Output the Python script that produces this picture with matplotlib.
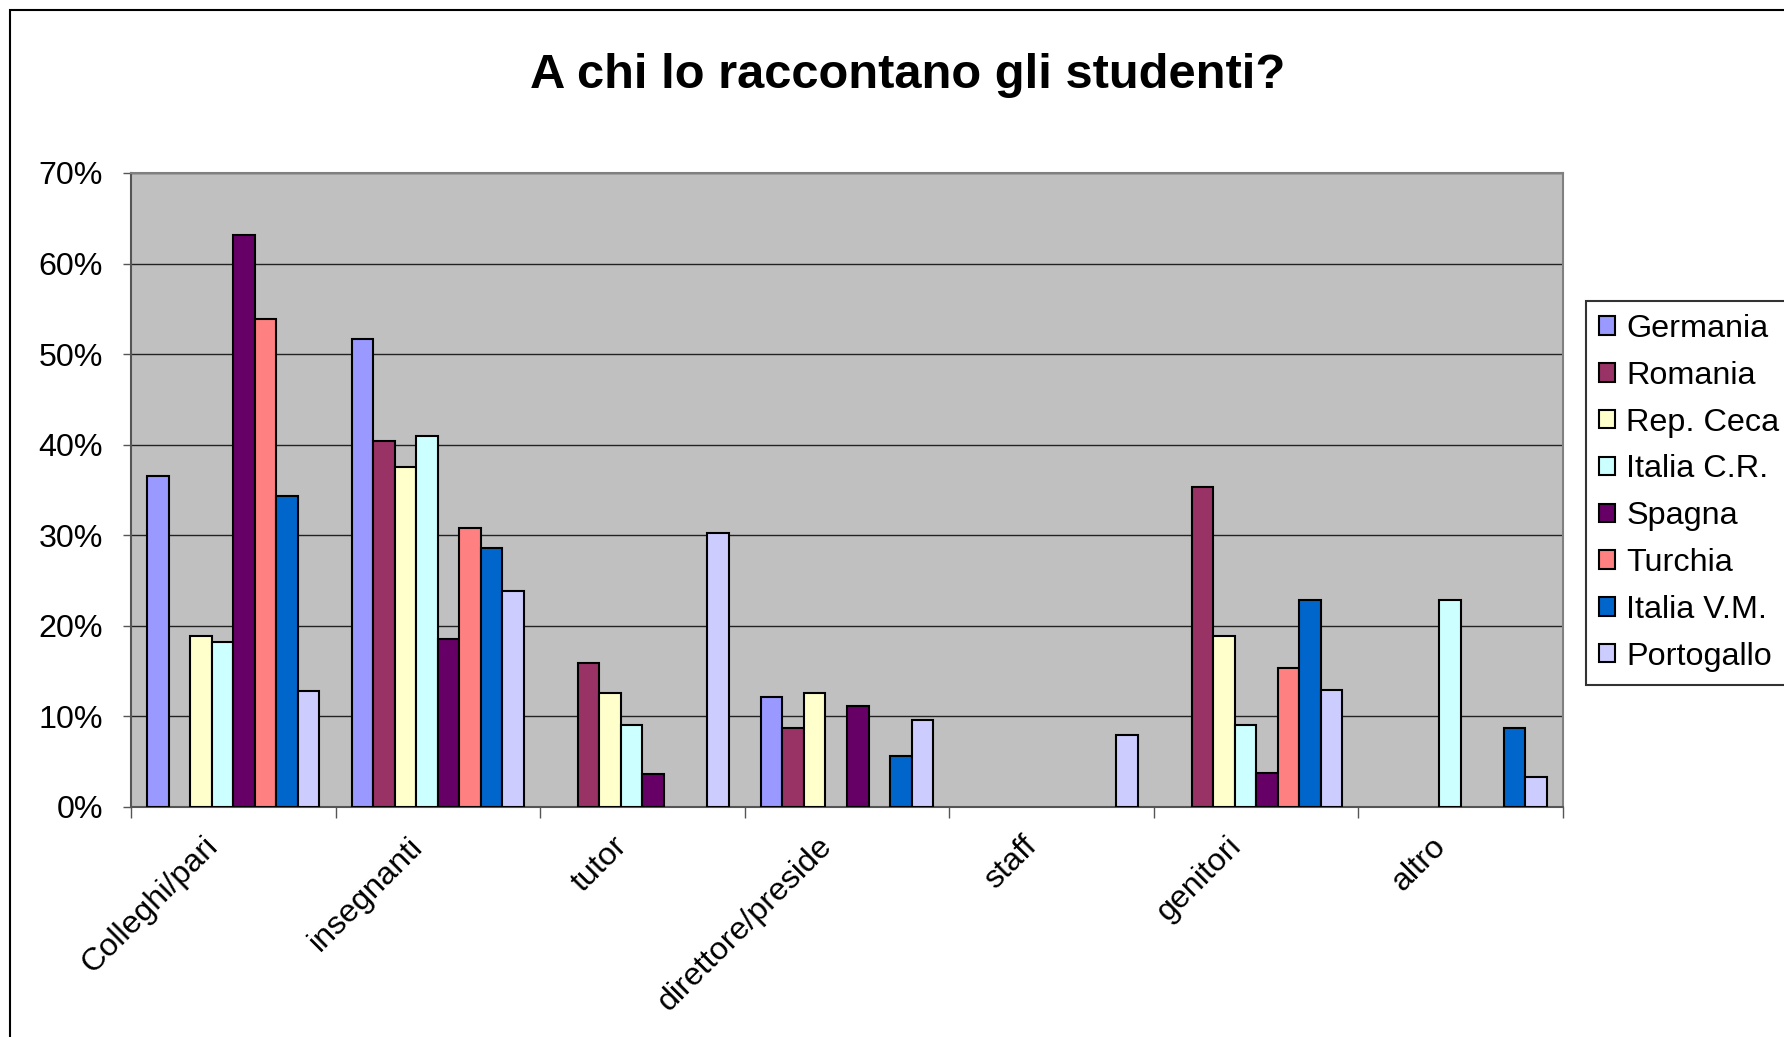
import numpy as np
import matplotlib
matplotlib.use("Agg")
import matplotlib.pyplot as plt
import matplotlib.transforms as mtransforms
from matplotlib.patches import Rectangle
from matplotlib.ticker import PercentFormatter, FixedLocator

plt.rcParams['font.family'] = ['Liberation Sans', 'DejaVu Sans']

categories = ["Colleghi/pari", "insegnanti", "tutor", "direttore/preside",
              "staff", "genitori", "altro"]
countries = ["Germania", "Romania", "Rep. Ceca", "Italia C.R.",
             "Spagna", "Turchia", "Italia V.M.", "Portogallo"]
colors = ["#9999FF", "#993366", "#FFFFCC", "#CCFFFF",
          "#660066", "#FF8080", "#0066CC", "#CCCCFF"]

# percent values per country, one per category (0 = no bar)
germania   = [36.5, 51.7, 0.0, 12.1, 0.0, 0.0, 0.0]
romania    = [0.0, 40.4, 15.9, 8.7, 0.0, 35.3, 0.0]
rep_ceca   = [18.9, 37.5, 12.6, 12.6, 0.0, 18.9, 0.0]
italia_cr  = [18.2, 41.0, 9.1, 0.0, 0.0, 9.1, 22.8]
spagna     = [63.2, 18.5, 3.6, 11.1, 0.0, 3.7, 0.0]
turchia    = [53.9, 30.8, 0.0, 0.0, 0.0, 15.4, 0.0]
italia_vm  = [34.3, 28.6, 0.0, 5.6, 0.0, 22.8, 8.7]
portogallo = [12.8, 23.9, 30.3, 9.6, 8.0, 12.9, 3.3]

series = [germania, romania, rep_ceca, italia_cr, spagna, turchia, italia_vm, portogallo]

W, H = 1784, 1037
fig = plt.figure(figsize=(W / 100, H / 100), dpi=100)
ax = fig.add_axes([131 / W, 1 - 807 / H, (1563 - 131) / W, (807 - 173) / H])
ax.set_facecolor("#C0C0C0")

x = np.arange(len(categories))
w = 1 / 9.5
for i, (vals, name, col) in enumerate(zip(series, countries, colors)):
    vals = np.array(vals)
    mask = vals > 0
    ax.bar(x[mask] + (i - 3.5) * w, vals[mask], width=w, color=col,
           edgecolor="black", linewidth=1.5, label=name, zorder=3)

ax.set_xlim(-0.5, len(categories) - 0.5)
ax.set_ylim(0, 70)
ax.set_yticks(np.arange(0, 71, 10))
ax.yaxis.set_major_formatter(PercentFormatter(decimals=0))
ax.grid(axis="y", color="#222222", linewidth=1, zorder=1)
ax.tick_params(axis="y", direction="out", length=6, width=1, color="#555555",
               labelsize=23.2, pad=14)

# category boundaries as ticks, labels at centres
ax.xaxis.set_major_locator(FixedLocator(np.arange(-0.5, len(categories), 1)))
ax.set_xticklabels([])
ax.xaxis.set_minor_locator(FixedLocator(x))
ax.set_xticklabels(categories, minor=True)
ax.tick_params(axis="x", which="major", direction="out", length=8, width=1, color="#555555")
ax.tick_params(axis="x", which="minor", length=0, labelsize=23.2, pad=17.5)
offset = mtransforms.ScaledTranslation(-30 / 100, 0, fig.dpi_scale_trans)
for lab in ax.get_xticklabels(minor=True):
    lab.set_rotation(45)
    lab.set_rotation_mode("anchor")
    lab.set_ha("right")
    lab.set_va("top")
    lab.set_transform(lab.get_transform() + offset)

for side in ["top", "right"]:
    ax.spines[side].set_color("#808080")
for side in ["left", "bottom"]:
    ax.spines[side].set_color("#555555")
for s in ax.spines.values():
    s.set_linewidth(1.5)

fig.text(908 / W, 1 - 75 / H, "A chi lo raccontano gli studenti?",
         fontsize=35.2, fontweight="bold", ha="center", va="center")

leg = fig.legend(loc="upper left", bbox_to_anchor=(1586 / W, 1 - 301 / H),
                 bbox_transform=fig.transFigure, fontsize=23.3, frameon=True,
                 fancybox=False, edgecolor="black", borderaxespad=0,
                 handlelength=0.5, handleheight=0.5, handletextpad=0.35,
                 borderpad=0.4, labelspacing=0.52)
leg.get_frame().set_linewidth(1.5)

# outer chart frame
fig.patches.append(Rectangle((10 / W, -0.1), 2.0, 1.1 - 10 / H, transform=fig.transFigure,
                             fill=False, edgecolor="black", linewidth=1.5))

fig.savefig("out.png", dpi=100)
